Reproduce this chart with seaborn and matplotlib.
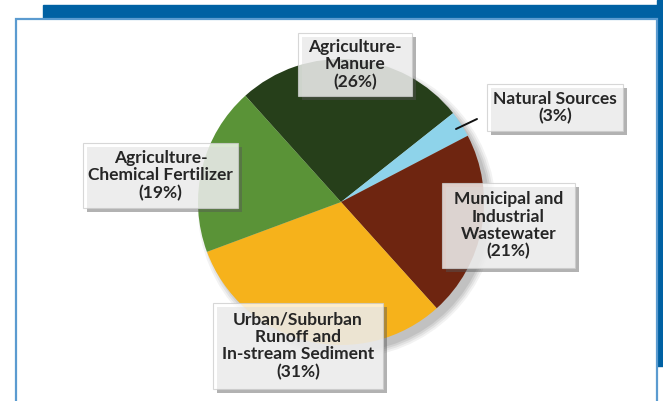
import matplotlib
matplotlib.use("Agg")
import matplotlib.pyplot as plt
import matplotlib.patches as mpatches
import matplotlib.patheffects as pe
import seaborn as sns

# ---- data ----
categories = [
    "Agriculture-\nManure",
    "Natural Sources",
    "Municipal and\nIndustrial\nWastewater",
    "Urban/Suburban\nRunoff and\nIn-stream Sediment",
    "Agriculture-\nChemical Fertilizer",
]
shares = [26, 3, 21, 31, 19]
colors = ["#263f1a", "#8ed3ea", "#6e2510", "#f6b21b", "#5a9337"]

sns.set_theme(style="white")
plt.rcParams["font.family"] = ["Lato", "DejaVu Sans"]

W, H = 663, 401
fig = plt.figure(figsize=(W / 100, H / 100), dpi=100)
fig.patch.set_facecolor("white")
ax = fig.add_axes([0, 0, 1, 1])
ax.set_xlim(0, W)
ax.set_ylim(0, H)
ax.axis("off")

def Y(y):  # image pixel row -> data y
    return H - y

# ---- frame decoration ----
ax.add_patch(mpatches.Rectangle((43, Y(20)), W - 43, 15, color="#0061a3", zorder=0))
ax.add_patch(mpatches.Rectangle((657, Y(366)), 6, 366, color="#0061a3", zorder=0))
ax.add_patch(mpatches.Rectangle((16, Y(405)), 641, 386, facecolor="white",
                                edgecolor="#5b9bd0", linewidth=1.6, zorder=1))

# ---- pie ----
cx, cy, r = 341, Y(202), 143
for i, a in enumerate([0.05, 0.06, 0.07, 0.08]):
    ax.add_patch(mpatches.Circle((cx + 6, cy - 7), r + 6 - i * 2, color="black",
                                 alpha=a, lw=0, zorder=2))
wedges, _ = ax.pie(shares, colors=colors, startangle=132, counterclock=False,
                   center=(cx, cy), radius=r, frame=True,
                   wedgeprops=dict(linewidth=0))
for w in wedges:
    w.set_zorder(3)
ax.set_xlim(0, W)
ax.set_ylim(0, H)
ax.set_aspect("auto")
ax.axis("off")

# leader line for Natural Sources
ax.plot([456, 477], [Y(129), Y(119)], color="#111111", lw=1.4, zorder=4)

# ---- label boxes (left, top, right, bottom in image px) ----
boxes = [
    (298, 33, 412, 96),
    (487, 84, 623, 131),
    (442, 183, 575, 268),
    (213, 303, 383, 389),
    (83, 143, 238, 208),
]
for (l, t, rr, b), cat, val in zip(boxes, categories, shares):
    rect = mpatches.Rectangle((l, Y(b)), rr - l, b - t, facecolor="white",
                              alpha=0.78, edgecolor="#cccccc", lw=0.8, zorder=5)
    rect.set_path_effects([pe.SimplePatchShadow(offset=(3, -3), shadow_rgbFace="#555555",
                                                alpha=0.45), pe.Normal()])
    ax.add_patch(rect)
    ax.text((l + rr) / 2, Y((t + b) / 2), f"{cat}\n({val}%)", ha="center", va="center",
            fontsize=12.5, fontweight="bold", color="#262626", linespacing=1.1, zorder=6)

fig.savefig("out.png", dpi=100)
